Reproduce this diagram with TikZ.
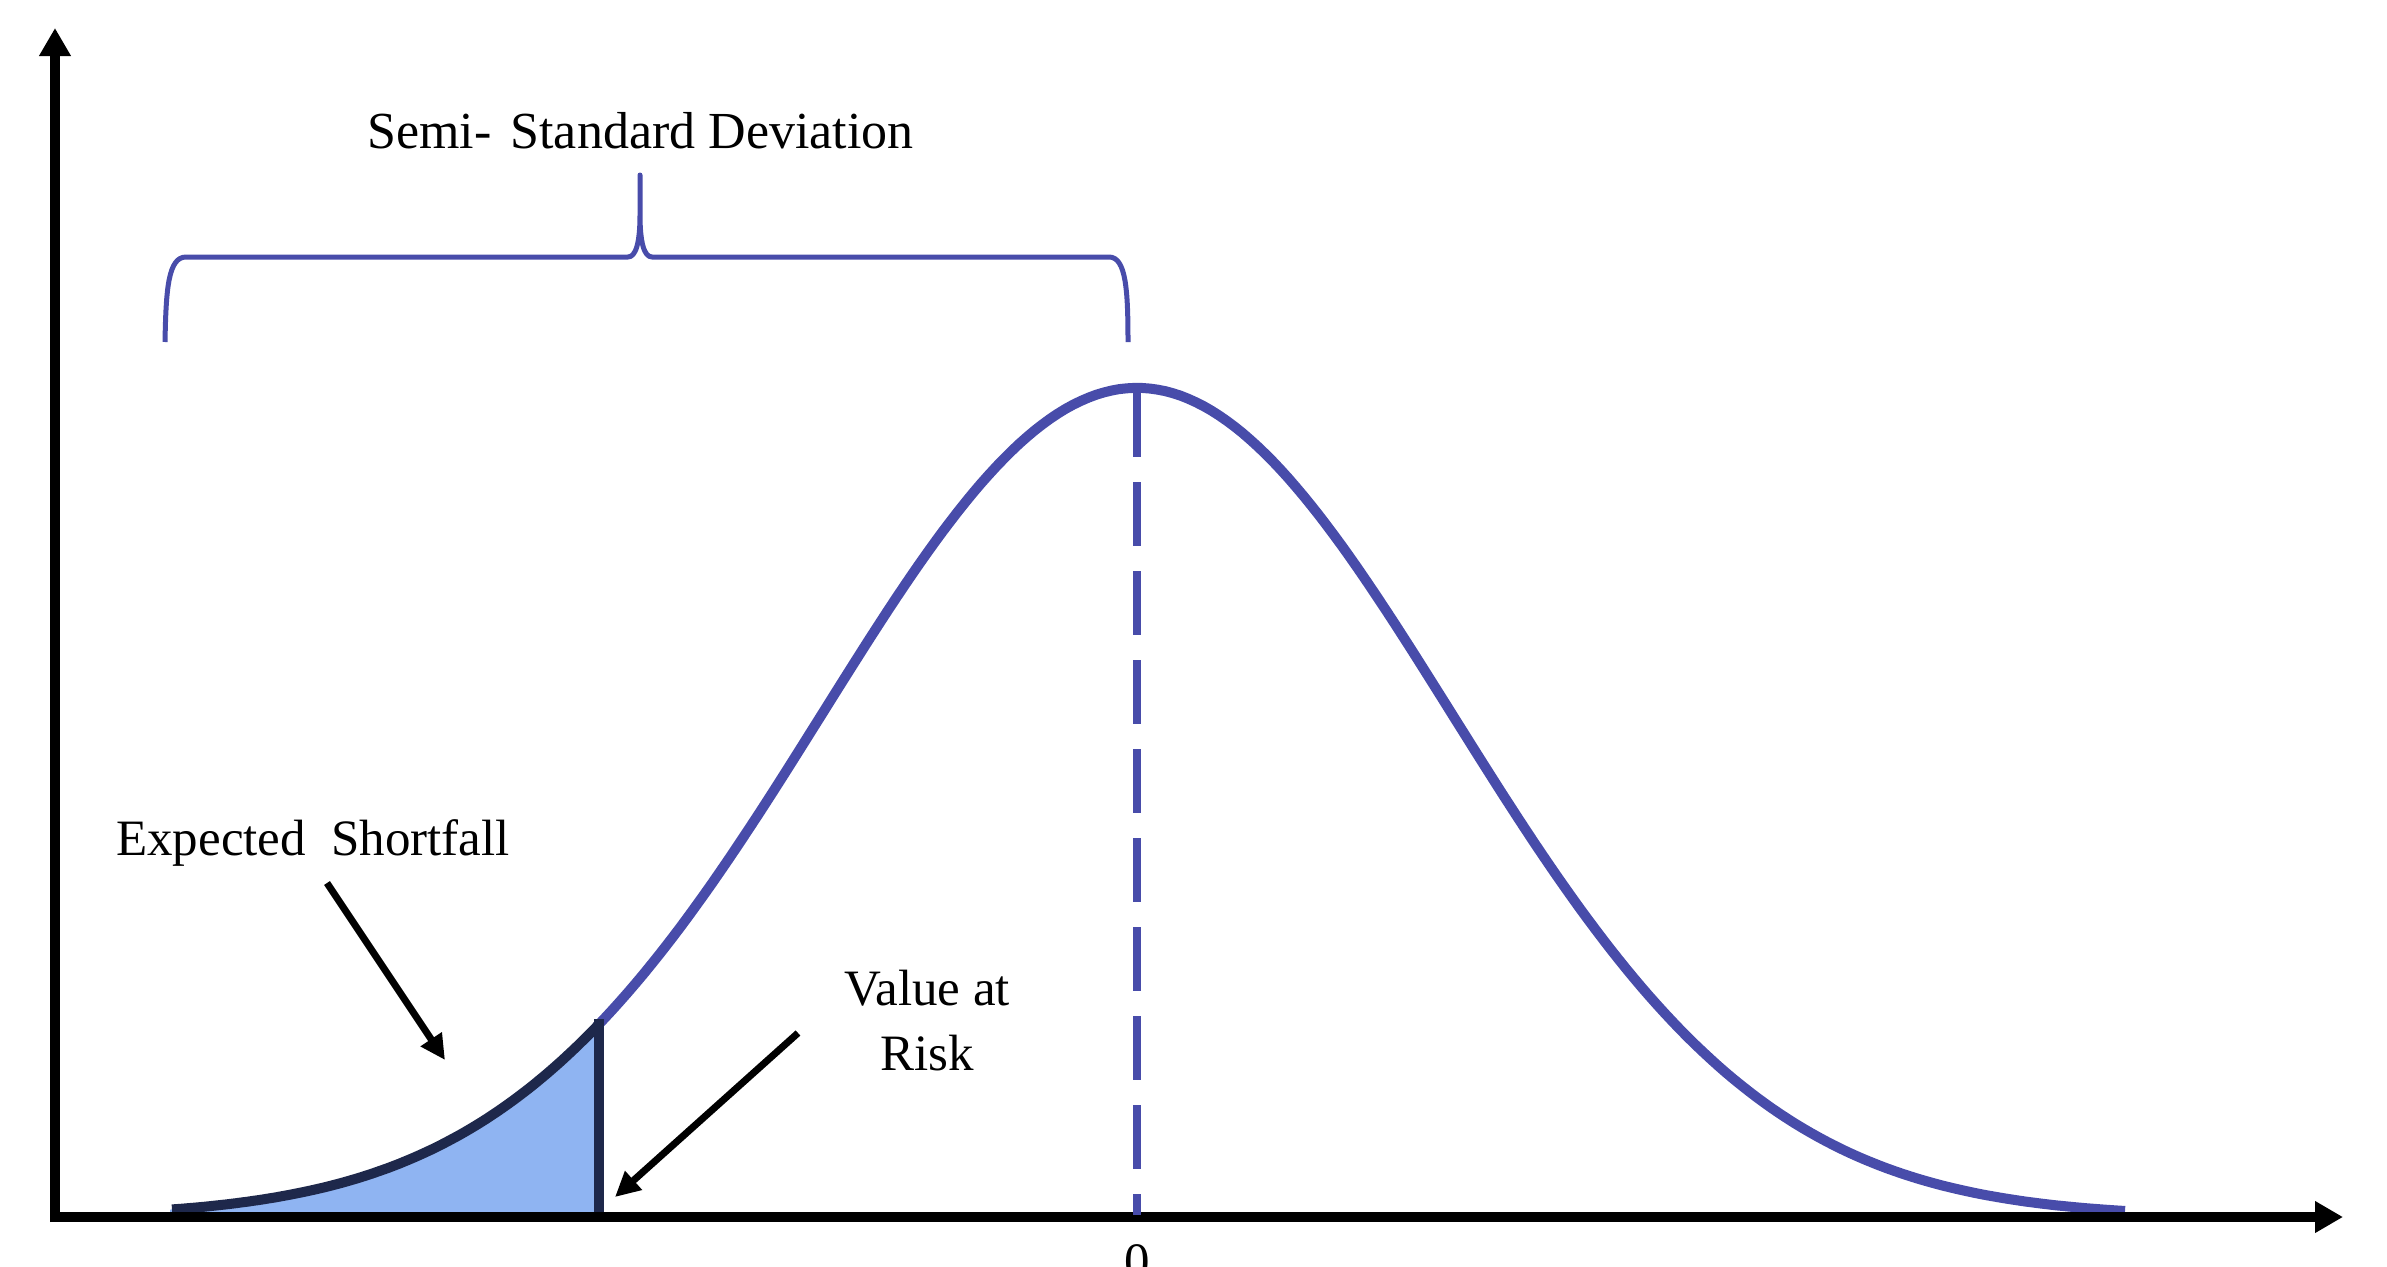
\documentclass[tikz,border=0pt]{standalone}
\usepackage{fontspec}
\setmainfont{Liberation Serif}
\usetikzlibrary{arrows.meta}
\definecolor{curveblue}{RGB}{72,76,170}
\definecolor{fillblue}{RGB}{143,180,242}
\definecolor{darkedge}{RGB}{30,40,75}
\tikzset{
  axisline/.style={line width=10pt, black, -{Triangle[length=28pt,width=30pt]}},
  annarrow/.style={line width=7pt, black, -{Triangle[length=25pt,width=24pt]}},
  lbl/.style={inner sep=0pt, font=\fontsize{51}{64}\selectfont},
  titlelbl/.style={inner sep=0pt, font=\fontsize{52}{65}\selectfont},
  bellcurve/.style={line width=10pt, curveblue, line join=round},
}
\begin{document}
\begin{tikzpicture}[x=1pt,y=-1pt]
\useasboundingbox (0,0) rectangle (2387,1266);
% shaded tail
\fill[fillblue] (170,1217) -- plot[domain=170:599, samples=80]
  (\x, {1217-829*exp(-0.5*((\x-1137)/315)*((\x-1137)/315))}) -- (599,1217) -- cycle;
% main curve
\draw[bellcurve] plot[domain=597:2125, samples=200]
  (\x, {1217-829*exp(-0.5*((\x-1137)/315)*((\x-1137)/315))});
% dark edge of tail
\draw[line width=10pt, darkedge] plot[domain=172:599, samples=80]
  (\x, {1217-829*exp(-0.5*((\x-1137)/315)*((\x-1137)/315))});
\coordinate (vartop) at (599,1019);
\coordinate (varbot) at (599,1217);
\draw[line width=10pt, darkedge] (varbot) -- (vartop);
% axes
\coordinate (origin) at (55,1217);
\coordinate (ytip) at (55,28);
\coordinate (xtip) at (2343,1217);
\draw[axisline] (55,1222) -- (ytip);
\draw[axisline] (50,1217) -- (xtip);
% dashed mean line
\coordinate (peak) at (1137,393);
\coordinate (meanbot) at (1137,1215);
\draw[line width=8pt, curveblue, dash pattern=on 64pt off 25pt] (peak) -- (meanbot);
% bracket
\draw[line width=5pt, curveblue, line join=round]
  (165,342) .. controls (166,290) and (168,257) .. (186,257) -- (628,257)
  .. controls (636,257) and (640,242) .. (640,215) -- (640,175)
  -- (640,215) .. controls (640,242) and (644,257) .. (652,257) -- (1109,257)
  .. controls (1126,257) and (1128,290) .. (1128,342);
% labels
\node[titlelbl, anchor=base west] (sstd) at (367,148) {Semi-\hspace{0.12em} Standard Deviation};
\node[lbl, anchor=base west] (es) at (116,855) {Expected\hspace{0.25em} Shortfall};
\node[lbl, anchor=base] (var1) at (927,1005) {Value at};
\node[lbl, anchor=base] (var2) at (927,1070) {Risk};
\node[lbl, anchor=base] (zero) at (1137,1278) {0};
% annotation arrows
\coordinate (esfrom) at (327,883);
\coordinate (esto) at (445,1060);
\coordinate (varfrom) at (798,1033);
\coordinate (varto) at (615,1197);
\draw[annarrow] (esfrom) -- (esto);
\draw[annarrow] (varfrom) -- (varto);
\end{tikzpicture}
\end{document}
